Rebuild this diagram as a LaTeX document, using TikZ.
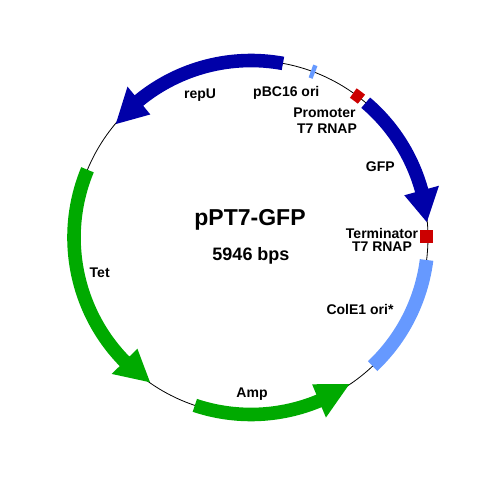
\documentclass[tikz,border=0pt]{standalone}
\usepackage{fontspec}
\setmainfont{Liberation Sans}
\definecolor{genblue}{HTML}{0000A8}
\definecolor{gengreen}{HTML}{00AA00}
\definecolor{orilight}{HTML}{6699FF}
\definecolor{sitered}{HTML}{CC0000}
\tikzset{
  lab/.style={font=\fontsize{14}{16}\selectfont\bfseries,inner sep=0pt,align=center},
  baselab/.style={lab,anchor=base},
  backbone/.style={draw=black,line width=0.8pt},
}
% #1 colour, #2 start angle, #3 head base angle, #4 tip angle
\newcommand{\genearrow}[4]{%
  \fill[#1] (#2:170.2) arc[start angle=#2,end angle=#3,radius=170.2]
    -- (#3:159) -- (#4:176.5) -- (#3:195) -- (#3:183.8)
    arc[start angle=#3,end angle=#2,radius=183.8] -- cycle;}
\newcommand{\geneband}[3]{%
  \fill[#1] (#2:170.2) arc[start angle=#2,end angle=#3,radius=170.2]
    -- (#3:183.8) arc[start angle=#3,end angle=#2,radius=183.8] -- cycle;}
\begin{document}
\begin{tikzpicture}[x=1pt,y=1pt]
\useasboundingbox (0,0) rectangle (500,-500);
\begin{scope}[shift={(251,-237.5)}]
  \draw[backbone] (0,0) circle[radius=177];
  \genearrow{genblue}{79.6}{129.3}{140}
  \genearrow{genblue}{49.6}{15.4}{5}
  \genearrow{gengreen}{157.5}{224.4}{235.1}
  \genearrow{gengreen}{251.5}{292.6}{303.9}
  \geneband{orilight}{-7.3}{-46.6}
  \geneband{orilight}{68.8}{70.2}
  \fill[sitered] (51.4:171.2) arc[start angle=51.4,end angle=54.7,radius=171.2]
    -- (54.7:182.8) arc[start angle=54.7,end angle=51.4,radius=182.8] -- cycle;
\end{scope}
\fill[sitered] (420.2,-230.2) rectangle (433.2,-243.2);
\node[font=\fontsize{23}{23}\selectfont\bfseries,inner sep=0pt,anchor=base] (title) at (250,-225) {pPT7-GFP};
\node[font=\fontsize{18}{18}\selectfont\bfseries,inner sep=0pt,anchor=base] (size) at (251,-260) {5946 bps};
\node[baselab] (repu) at (200,-98.3) {repU};
\node[baselab] (pbc) at (286.3,-96) {pBC16 ori};
\node[lab] (prom) at (324.5,-120.3) {Promoter\\\hspace*{5pt}T7 RNAP};
\node[baselab] (gfp) at (380.3,-171.7) {GFP};
\node[lab,font=\fontsize{14}{13}\selectfont\bfseries] (term) at (382,-240) {Terminator\\T7 RNAP};
\node[baselab] (cole) at (360,-314.3) {ColE1 ori*};
\node[baselab] (amp) at (252,-397) {Amp};
\node[baselab] (tet) at (99.7,-277.3) {Tet};
\end{tikzpicture}
\end{document}
